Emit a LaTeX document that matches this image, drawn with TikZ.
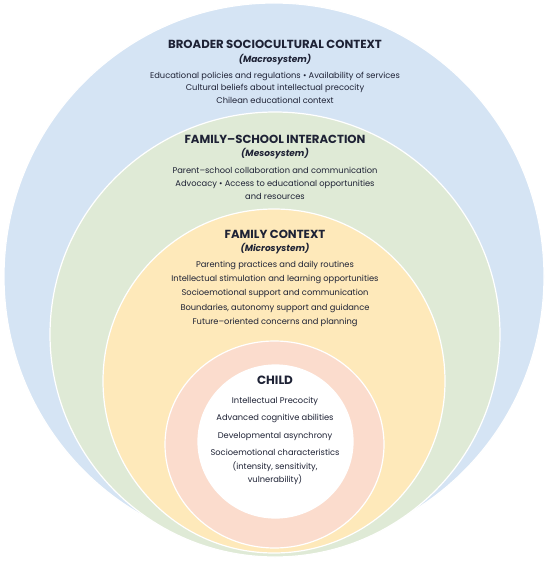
\documentclass[tikz,border=0pt]{standalone}
\usepackage{fontspec}
\setmainfont{Poppins}
\definecolor{macro}{HTML}{D5E4F4}
\definecolor{meso}{HTML}{DFEAD6}
\definecolor{micro}{HTML}{FEE9BA}
\definecolor{childring}{HTML}{FBDCCD}
\definecolor{ink}{HTML}{1E2235}
\tikzset{
  layer/.style={fill=#1, draw=white, line width=1.2pt},
  head/.style={text=ink, font=\fontsize{11.7}{13}\selectfont\bfseries, inner sep=0pt, anchor=base},
  sub/.style={text=ink, font=\fontsize{9}{10}\selectfont\bfseries\itshape, inner sep=0pt, anchor=base},
  body/.style={text=ink, font=\fontsize{8.3}{10}\selectfont, inner sep=0pt, anchor=base},
}
\begin{document}
\begin{tikzpicture}[x=1pt,y=-1pt]
\useasboundingbox[fill=white] (0,0) rectangle (550,564);
% layers
\path[layer=macro] (274,276.5) ellipse [x radius=270pt, y radius=273.5pt];
\path[layer=meso] (275,334.5) ellipse [x radius=225pt, y radius=222.5pt];
\path[layer=micro] (274,381) ellipse [x radius=171pt, y radius=172pt];
\path[layer=childring] (274.5,444.5) ellipse [x radius=109.5pt, y radius=103.5pt];
\path[layer=white] (275.5,441.5) ellipse [x radius=77.5pt, y radius=76.5pt];
% macrosystem
\node[head] (mac) at (275,48.7) {BROADER SOCIOCULTURAL CONTEXT};
\node[sub] (macs) at (275,62.2) {(Macrosystem)};
\node[body] (mac1) at (275,78.2) {Educational policies and regulations • Availability of services};
\node[body] (mac2) at (275,90.5) {Cultural beliefs about intellectual precocity};
\node[body] (mac3) at (275,103.1) {Chilean educational context};
% mesosystem
\node[head] (mes) at (275,143.7) {FAMILY–SCHOOL INTERACTION};
\node[sub] (mess) at (275,156.9) {(Mesosystem)};
\node[body] (mes1) at (275,173.7) {Parent–school collaboration and communication};
\node[body] (mes2) at (275,186.7) {Advocacy • Access to educational opportunities};
\node[body] (mes3) at (275,199.6) {and resources};
% microsystem
\node[head] (mic) at (275,238.5) {FAMILY CONTEXT};
\node[sub] (mics) at (275,251.6) {(Microsystem)};
\node[body] (mic1) at (275,267.7) {Parenting practices and daily routines};
\node[body] (mic2) at (275,281.7) {Intellectual stimulation and learning opportunities};
\node[body] (mic3) at (275,295.8) {Socioemotional support and communication};
\node[body] (mic4) at (275,310.2) {Boundaries, autonomy support and guidance};
\node[body] (mic5) at (275,324.2) {Future–oriented concerns and planning};
% child
\node[head, font=\fontsize{12}{14}\selectfont\bfseries] (chi) at (275,384.2) {CHILD};
\node[body] (chi1) at (275,403.5) {Intellectual Precocity};
\node[body] (chi2) at (275,420.7) {Advanced cognitive abilities};
\node[body] (chi3) at (275,438.2) {Developmental asynchrony};
\node[body] (chi4) at (275,455.4) {Socioemotional characteristics};
\node[body] (chi5) at (275,469.5) {(intensity, sensitivity,};
\node[body] (chi6) at (275,482.4) {vulnerability)};
\end{tikzpicture}
\end{document}
